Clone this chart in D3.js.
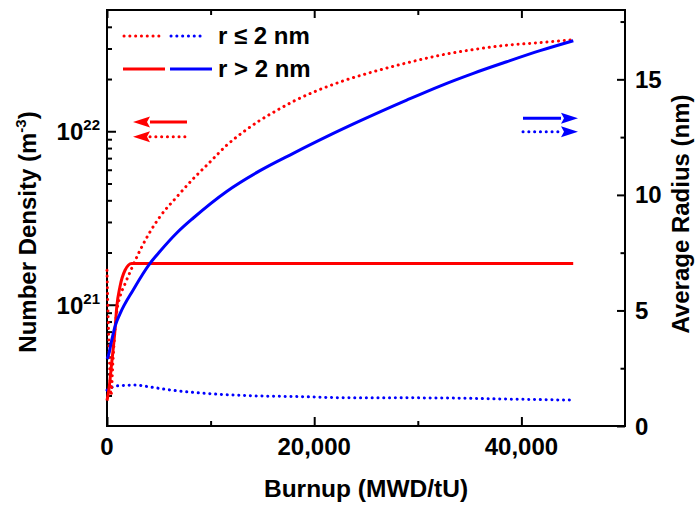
<!DOCTYPE html>
<html>
<head>
<meta charset="utf-8">
<script src="https://d3js.org/d3.v7.min.js"></script>
<style>
  body { margin: 0; background: #fff; }
  text { font-family: "Liberation Sans", Arial, sans-serif; font-weight: bold; fill: #000; }
</style>
</head>
<body>
<div id="chart"></div>
<script>
// data
// r <= 2 nm, number density (m^-3), left axis
var smallDensBurnup = [0, 100, 250, 390, 580, 770, 965, 1250, 1740, 2380, 3190, 4150, 5100, 6730, 8330, 9940, 11550, 13160, 14770, 16380, 17980, 22490, 25700, 28930, 32140, 35360, 38580, 41800, 45010];
var smallDens = [1.58e21, 9.0e20, 4.5e20, 3.0e20, 4.8e20, 7.1e20, 9.3e20, 1.11e21, 1.32e21, 1.62e21, 2.06e21, 2.63e21, 3.21e21, 4.18e21, 5.33e21, 6.65e21, 8.30e21, 9.91e21, 1.156e22, 1.318e22, 1.486e22, 1.923e22, 2.203e22, 2.477e22, 2.742e22, 2.958e22, 3.133e22, 3.243e22, 3.373e22];
// r > 2 nm, number density
var largeDensBurnup = [0, 200, 450, 770, 940, 1250, 1740, 2380, 5000, 10000, 20000, 30000, 40000, 45000];
var largeDens = [2.8e20, 3.3e20, 4.6e20, 7.13e20, 9.7e20, 1.27e21, 1.58e21, 1.73e21, 1.73e21, 1.73e21, 1.73e21, 1.73e21, 1.73e21, 1.73e21];
// r > 2 nm, average radius (nm), right axis
var largeRadBurnup = [0, 100, 450, 770, 1250, 2540, 4150, 5100, 6730, 8330, 11550, 14770, 17980, 21200, 24420, 28930, 32140, 35360, 38580, 41800, 45010];
var largeRad = [2.9, 3.0, 3.7, 4.3, 4.85, 5.9, 7.04, 7.55, 8.35, 9.0, 10.15, 11.05, 11.8, 12.52, 13.2, 14.1, 14.71, 15.26, 15.76, 16.24, 16.67];
// r <= 2 nm, average radius
var smallRadBurnup = [0, 290, 770, 2800, 4150, 6080, 8980, 13800, 18600, 23450, 26640, 33100, 37900, 45000];
var smallRad = [1.55, 1.63, 1.73, 1.77, 1.69, 1.56, 1.43, 1.31, 1.27, 1.22, 1.22, 1.21, 1.17, 1.12];

var xMajor = [0, 20000, 40000];
var xMinor = [10000, 30000];
var rMajor = [0, 5, 10, 15];
var rMinor = [2.5, 7.5, 12.5, 17.5];
var dMajor = [1e21, 1e22];
var dMinor = [3e20, 4e20, 5e20, 6e20, 7e20, 8e20, 9e20, 2e21, 3e21, 4e21, 5e21, 6e21, 7e21, 8e21, 9e21, 2e22, 3e22, 4e22];

var W = 697, H = 508;
var L = 107, R = 625, T = 10, B = 426;

var svg = d3.select("#chart").append("svg").attr("width", W).attr("height", H);

var x = d3.scaleLinear().domain([0, 50000]).range([L, R]);
var yD = d3.scaleLog().domain([2e20, 5e22]).range([B, T]);
var yR = d3.scaleLinear().domain([0, 18]).range([B, T]);

function zip(a, b) { return a.map(function(v, i) { return [v, b[i]]; }); }

// ticks (inward)
function ticks(axis, vals, size) {
  var g = svg.append("g").call(axis.tickValues(vals).tickSize(size).tickFormat(""));
  g.select(".domain").remove();
  g.selectAll("line").attr("stroke", "#000").attr("stroke-width", 2);
  return g;
}
ticks(d3.axisBottom(x), xMajor, -9).attr("transform", "translate(0," + B + ")");
ticks(d3.axisBottom(x), xMinor, -5).attr("transform", "translate(0," + B + ")");
ticks(d3.axisTop(x), xMajor, -8).attr("transform", "translate(0," + T + ")");
ticks(d3.axisTop(x), xMinor, -5).attr("transform", "translate(0," + T + ")");
ticks(d3.axisLeft(yD), dMajor, -9).attr("transform", "translate(" + L + ",0)");
ticks(d3.axisLeft(yD), dMinor, -5).attr("transform", "translate(" + L + ",0)");
ticks(d3.axisRight(yR), rMajor, -8).attr("transform", "translate(" + R + ",0)");
ticks(d3.axisRight(yR), rMinor, -4.5).attr("transform", "translate(" + R + ",0)");

svg.append("rect").attr("x", L).attr("y", T).attr("width", R - L).attr("height", B - T)
  .attr("fill", "none").attr("stroke", "#000").attr("stroke-width", 2);

// tick labels
svg.selectAll(".xl").data(xMajor).enter().append("text")
  .attr("x", function(d) { return x(d); }).attr("y", 455)
  .attr("text-anchor", "middle").style("font-size", "24px")
  .text(function(d) { return d3.format(",")(d); });

svg.selectAll(".rl").data(rMajor).enter().append("text")
  .attr("x", R + 10).attr("y", function(d) { return yR(d) + 8.5; })
  .style("font-size", "24px").text(function(d) { return d; });

var dl = svg.selectAll(".dl").data(dMajor).enter().append("text")
  .attr("x", 100).attr("y", function(d) { return yD(d) + 9; })
  .attr("text-anchor", "end").style("font-size", "24px");
dl.append("tspan").text("10");
dl.append("tspan").attr("dy", -10).style("font-size", "15px")
  .text(function(d) { return Math.round(Math.log10(d)); });

// axis titles
svg.append("text").attr("x", 366).attr("y", 497).attr("text-anchor", "middle")
  .style("font-size", "24.5px").text("Burnup (MWD/tU)");

var lt = svg.append("text").attr("transform", "translate(36,232) rotate(-90)")
  .attr("text-anchor", "middle").style("font-size", "24px");
lt.append("tspan").text("Number Density (m");
lt.append("tspan").attr("dy", -10).style("font-size", "15px").text("-3");
lt.append("tspan").attr("dy", 10).text(")");

svg.append("text").attr("transform", "translate(689,214) rotate(-90)")
  .attr("text-anchor", "middle").style("font-size", "24px").text("Average Radius (nm)");

// lines
var red = "#ff0000", blue = "#0000ff";
var lineD = d3.line().x(function(d) { return x(d[0]); }).y(function(d) { return yD(d[1]); }).curve(d3.curveMonotoneX);
var lineR = d3.line().x(function(d) { return x(d[0]); }).y(function(d) { return yR(d[1]); }).curve(d3.curveMonotoneX);

function dotted(sel) {
  return sel.attr("stroke-width", 3).attr("stroke-dasharray", "0.1 5.7").attr("stroke-linecap", "round");
}

dotted(svg.append("path").attr("d", lineR(zip(smallRadBurnup, smallRad)))
  .attr("fill", "none").attr("stroke", blue));
dotted(svg.append("path").attr("d", lineD(zip(smallDensBurnup, smallDens)))
  .attr("fill", "none").attr("stroke", red));
svg.append("path").attr("d", lineD(zip(largeDensBurnup, largeDens)))
  .attr("fill", "none").attr("stroke", red).attr("stroke-width", 3);
svg.append("path").attr("d", lineR(zip(largeRadBurnup, largeRad)))
  .attr("fill", "none").attr("stroke", blue).attr("stroke-width", 3);

// legend
function seg(x1, x2, y, col, isDot) {
  var l = svg.append("line").attr("x1", x1).attr("x2", x2).attr("y1", y).attr("y2", y)
    .attr("stroke", col).attr("stroke-width", 3);
  if (isDot) dotted(l);
}
seg(124, 160, 36, red, true);
seg(171, 205, 36, blue, true);
seg(123, 165, 69, red, false);
seg(170, 212, 69, blue, false);
svg.append("text").attr("x", 218).attr("y", 44).style("font-size", "24px").text("r \u2264 2 nm");
svg.append("text").attr("x", 218).attr("y", 77).style("font-size", "24px").text("r > 2 nm");

// arrows
function arrow(x1, x2, y, col, isDot, dir) {
  var base = x2 - dir * 17;
  seg(Math.min(x1, base), Math.max(x1, base), y, col, isDot);
  svg.append("path").attr("d", "M" + x2 + "," + y + "L" + base + "," + (y - 5.5) + "L" + (base + dir * 3) + "," + y + "L" + base + "," + (y + 5.5) + "Z")
    .attr("fill", col);
}
arrow(187, 133, 122, red, false, -1);
arrow(187, 133, 136.7, red, true, -1);
arrow(523, 578, 118.3, blue, false, 1);
arrow(523, 578, 131.7, blue, true, 1);
</script>
</body>
</html>
